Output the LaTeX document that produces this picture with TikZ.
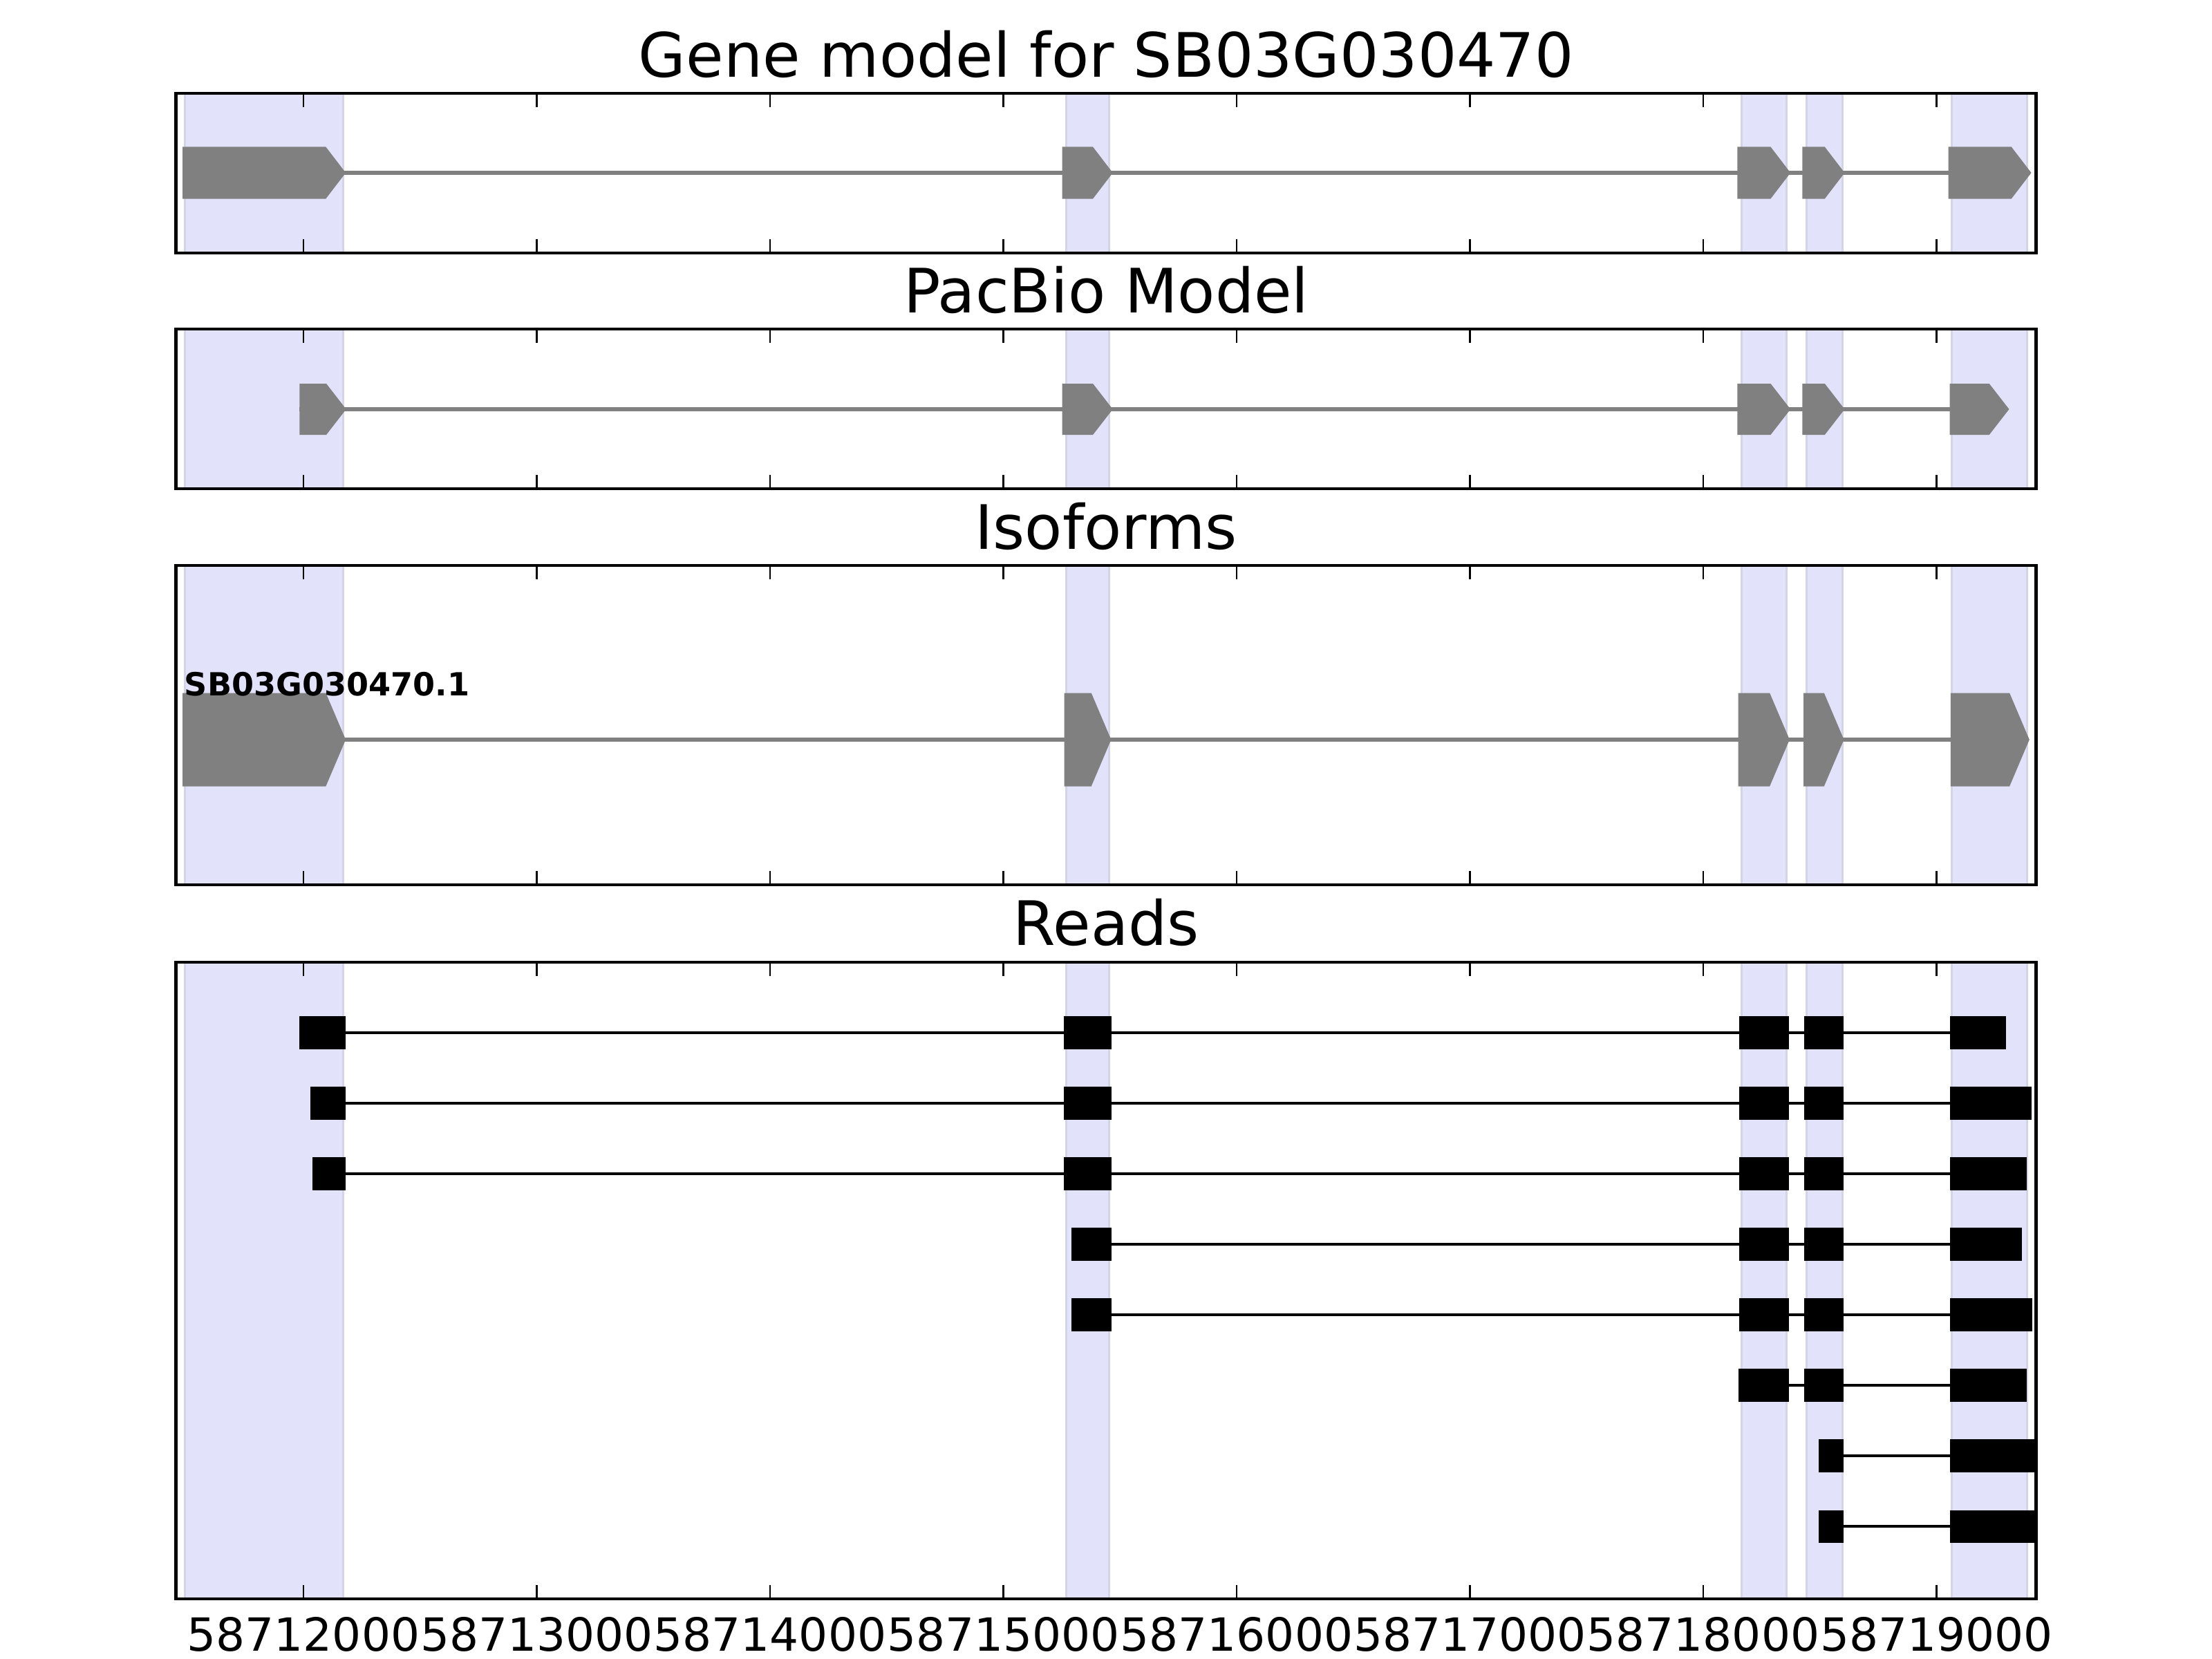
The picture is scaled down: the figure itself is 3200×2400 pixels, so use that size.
\documentclass[tikz,border=0pt]{standalone}
\usepackage{fontspec}
\setmainfont{DejaVu Sans}
\usetikzlibrary{calc}

\definecolor{spanfill}{RGB}{226,226,251}
\definecolor{spanedge}{RGB}{212,212,232}
\definecolor{exongray}{RGB}{128,128,128}

\def\tiplen{0.085}
% exon drawn as a pointed box: start, end, y centre, half height
\def\genearrow#1#2#3#4{\fill[exongray] (#1,#3-#4) -- ({#2-\tiplen},#3-#4) -- (#2,#3) -- ({#2-\tiplen},#3+#4) -- (#1,#3+#4) -- cycle;}

\begin{document}
\begin{tikzpicture}[x=0.01cm, y=-0.01cm,
    frame/.style={line width=1.3pt},
    tickmark/.style={line width=0.7pt},
    intron/.style={exongray, line width=1.45pt},
    readline/.style={black, line width=1.15pt},
    readbox/.style={fill=black, draw=black, line width=0.3pt},
    spanbox/.style={fill=spanfill, draw=spanedge, line width=0.8pt},
    title/.style={font=\fontsize{25.2}{30}\selectfont, anchor=base, inner sep=0pt},
    ticklabel/.style={font=\fontsize{18.8}{22}\selectfont, inner sep=0pt},
    isolabel/.style={font=\bfseries\fontsize{13.1}{15}\selectfont, anchor=base west, inner sep=0pt}]
			%%%%% START %%%%%
			
			\fill[white] (0,0) rectangle (3200,2400);
			\useasboundingbox (0,0) rectangle (3200,2400);
			
			\begin{scope}[shift={(439,0)}, x=3.373cm]
			
			% exon spans behind every panel
			\foreach \t/\b in {135/366, 476/707, 818/1280, 1392/2313} {
				\foreach \s/\e in {-0.507/0.170, 3.270/3.453, 6.164/6.356, 6.442/6.596, 7.065/7.388}
					\draw[spanbox] (\s,\t) rectangle (\e,\b);
			}
			
			% gene model
			\draw[intron] (-0.518,250) -- (7.40,250);
			\foreach \s/\e in {-0.518/0.181, 3.252/3.469, 6.146/6.374, 6.425/6.606, 7.051/7.406}
				{\genearrow{\s}{\e}{250}{37.5}}
			
			% pacbio model
			\draw[intron] (-0.017,592) -- (7.30,592);
			\foreach \s/\e in {-0.017/0.183, 3.252/3.469, 6.146/6.374, 6.425/6.606, 7.057/7.311}
				{\genearrow{\s}{\e}{592}{37}}
			
			% isoforms
			\draw[intron] (-0.518,1070) -- (7.39,1070);
			\foreach \s/\e in {-0.518/0.181, 3.261/3.462, 6.150/6.370, 6.430/6.603, 7.060/7.398}
				{\genearrow{\s}{\e}{1070}{67.5}}
			\node[isolabel] (isoname) at (-0.512,1006) {SB03G030470.1};
			
			% reads
			\begin{scope}
				\clip (-0.546,1392) rectangle (7.427,2313);
				\foreach \y/\s/\e/\bl in {
					1494/-0.017/7.295/{-0.017/0.179, 3.262/3.462, 6.155/6.367, 6.434/6.601, 7.058/7.295},
					1596/0.031/7.406/{0.031/0.179, 3.262/3.462, 6.155/6.367, 6.434/6.601, 7.058/7.406},
					1698/0.040/7.384/{0.040/0.179, 3.262/3.462, 6.155/6.367, 6.434/6.601, 7.058/7.384},
					1800/3.294/7.363/{3.294/3.462, 6.155/6.367, 6.434/6.601, 7.058/7.363},
					1902/3.294/7.410/{3.294/3.462, 6.155/6.367, 6.434/6.601, 7.058/7.410},
					2004/6.152/7.384/{6.152/6.367, 6.434/6.601, 7.058/7.384},
					2106/6.497/7.450/{6.497/6.601, 7.058/7.450},
					2208/6.497/7.450/{6.497/6.601, 7.058/7.450}} {
					\draw[readline] (\s,\y) -- (\e,\y);
					\foreach \a/\b in \bl
						{\draw[readbox] (\a,\y-23) rectangle (\b,\y+23);}
				}
			\end{scope}
			
			% frames and ticks
			\foreach \t/\b in {135/366, 476/707, 818/1280, 1392/2313} {
				\foreach \k in {0,...,7} {
					\draw[tickmark] (\k,\t) -- (\k,\t+20);
					\draw[tickmark] (\k,\b) -- (\k,\b-20);
				}
				\draw[frame] (-0.546,\t) rectangle (7.427,\b);
			}
			
			% titles
			\node[title] (titlegene) at (3.441,112) {Gene model for SB03G030470};
			\node[title] (titlepacbio) at (3.441,452) {PacBio Model};
			\node[title] (titleiso) at (3.441,794) {Isoforms};
			\node[title] (titlereads) at (3.441,1367) {Reads};
			
			% position labels
			\foreach \k in {0,...,7} {
				\pgfmathtruncatemacro\d{\k+2}
				\node[ticklabel] (pos\k) at (\k,2364) {5871\d000};
			}
			
			\end{scope}
			
			%%%%% END %%%%%
\end{tikzpicture}
\end{document}
